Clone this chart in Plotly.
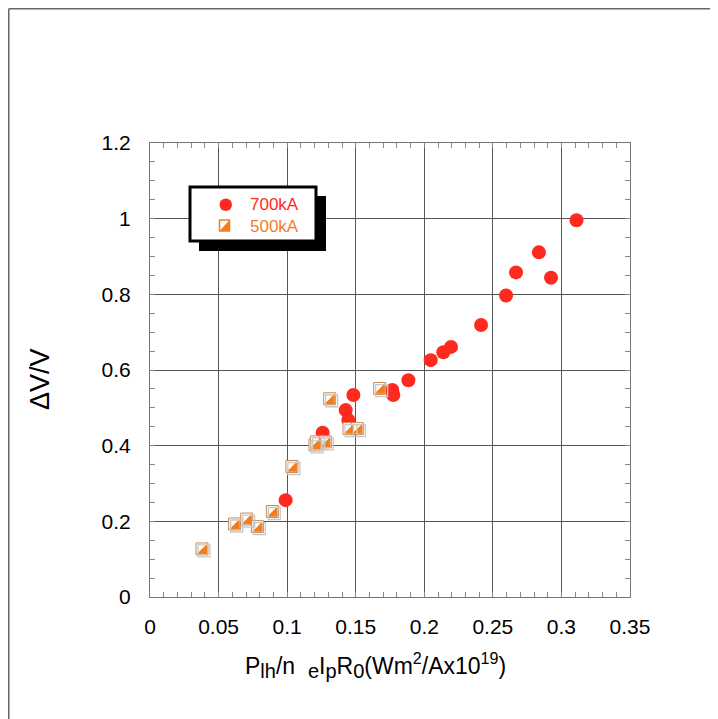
import plotly.graph_objects as go

# 700kA shots (red circles)
x_700 = [0.0989, 0.1259, 0.1427, 0.1446, 0.1483, 0.1767, 0.1774, 0.1884, 0.2047,
         0.2139, 0.2195, 0.2414, 0.2596, 0.2669, 0.2836, 0.2924, 0.3110]
y_700 = [0.256, 0.434, 0.494, 0.468, 0.534, 0.547, 0.534, 0.573, 0.626,
         0.647, 0.661, 0.719, 0.797, 0.858, 0.911, 0.844, 0.996]

# 500kA shots (half-filled orange squares)
x_500 = [0.0379, 0.0617, 0.0705, 0.0783, 0.0892, 0.1035, 0.1203, 0.1215, 0.1278,
         0.1310, 0.1451, 0.1512, 0.1675]
y_500 = [0.127, 0.193, 0.206, 0.186, 0.226, 0.345, 0.402, 0.410, 0.410,
         0.524, 0.445, 0.445, 0.551]

x_ticks = [0, 0.05, 0.1, 0.15, 0.2, 0.25, 0.3, 0.35]
y_ticks = [0, 0.2, 0.4, 0.6, 0.8, 1, 1.2]

RED = "#ff2a1f"
ORANGE = "#f07d1e"
FONT = "Liberation Sans, Arial, sans-serif"

# page is drawn 8px in from the window corner (body margin)
OFF = 8
PAGE_W, PAGE_H = 718, 719
W, H = PAGE_W - OFF, PAGE_H - OFF
# plot area, in window pixels
L, R, T, B = 150, 630, 143, 597
XR, YR = [0, 0.35], [0, 1.2]
kx = (R - L) / (XR[1] - XR[0])
ky = (B - T) / (YR[1] - YR[0])


def px(x):
    return (x - L) / (R - L)


def py(y):
    return (B - y) / (B - T)


def shifted(rng, d, k):
    # move an overlay axis so its marks land d pixels away
    return [rng[0] - d / k, rng[1] - d / k]


fig = go.Figure()

# shadow squares (offset 2px right/down)
fig.add_trace(go.Scatter(
    x=x_500, y=y_500, mode="markers", xaxis="x3", yaxis="y3", hoverinfo="skip",
    marker=dict(symbol="square", size=12, color="rgba(0,0,0,0)",
                line=dict(color="#c8c8c8", width=1.3)),
    showlegend=False))

fig.add_trace(go.Scatter(
    x=x_700, y=y_700, mode="markers", name="700kA",
    marker=dict(symbol="circle", size=14, color=RED, line=dict(width=0)),
    showlegend=False))

fig.add_trace(go.Scatter(
    x=x_500, y=y_500, mode="markers", name="500kA",
    marker=dict(symbol="square", size=12, color="white",
                line=dict(color="#c98a55", width=1)),
    showlegend=False))

# orange lower-right half, on an overlay axis to centre plotly's triangle
fig.add_trace(go.Scatter(
    x=x_500, y=y_500, mode="markers", xaxis="x2", yaxis="y2", hoverinfo="skip",
    marker=dict(symbol="triangle-se", size=11.5, color=ORANGE, line=dict(width=0)),
    showlegend=False))

axis_common = dict(
    showgrid=True, gridcolor="#555", gridwidth=1, zeroline=False,
    showline=True, linecolor="#777", linewidth=1, mirror="ticks",
    ticks="inside", ticklen=5, tickcolor="#888",
    tickfont=dict(family=FONT, size=21, color="black"),
)
fig.update_layout(
    width=W, height=H,
    margin=dict(l=L - OFF, r=PAGE_W - R, t=T - OFF, b=PAGE_H - B),
    paper_bgcolor="white", plot_bgcolor="white",
    xaxis=dict(range=XR, tickvals=x_ticks, ticklabelstandoff=11,
               minor=dict(dtick=0.01, tick0=0, ticks="inside", ticklen=5,
                          tickcolor="#888", showgrid=False),
               **axis_common),
    yaxis=dict(range=YR, tickvals=y_ticks, ticklabelstandoff=14,
               minor=dict(dtick=0.05, tick0=0, ticks="inside", ticklen=5,
                          tickcolor="#888", showgrid=False),
               **axis_common),
    xaxis2=dict(overlaying="x", range=shifted(XR, 1.7, kx), visible=False),
    yaxis2=dict(overlaying="y", range=shifted(YR, -1.7, ky), visible=False),
    xaxis3=dict(overlaying="x", range=shifted(XR, 2, kx), visible=False),
    yaxis3=dict(overlaying="y", range=shifted(YR, -2, ky), visible=False),
    showlegend=False,
)

shapes = []
# page frame (top and left edges)
shapes.append(dict(type="line", xref="paper", yref="paper", x0=px(8.75), x1=px(PAGE_W),
                   y0=py(8.75), y1=py(8.75), line=dict(color="#666", width=1.5)))
shapes.append(dict(type="line", xref="paper", yref="paper", x0=px(8.75), x1=px(8.75),
                   y0=py(8.75), y1=py(PAGE_H), line=dict(color="#666", width=1.5)))
# legend box with drop shadow
shapes.append(dict(type="rect", xref="paper", yref="paper", x0=px(199), x1=px(326),
                   y0=py(251), y1=py(196), fillcolor="black", line=dict(width=0)))
shapes.append(dict(type="rect", xref="paper", yref="paper", x0=px(190), x1=px(316),
                   y0=py(241), y1=py(187), fillcolor="white",
                   line=dict(color="black", width=3)))
# legend symbols
shapes.append(dict(type="circle", xref="paper", yref="paper", x0=px(219.5), x1=px(232),
                   y0=py(211), y1=py(198.5), fillcolor=RED, line=dict(width=0)))
shapes.append(dict(type="rect", xref="paper", yref="paper", x0=px(219.5), x1=px(229.5),
                   y0=py(231), y1=py(220), fillcolor="white",
                   line=dict(color=ORANGE, width=1.5)))
shapes.append(dict(type="path", xref="paper", yref="paper",
                   path=f"M {px(229.5)},{py(220)} L {px(229.5)},{py(231)} L {px(219.5)},{py(231)} Z",
                   fillcolor=ORANGE, line=dict(width=0)))
fig.update_layout(shapes=shapes)


def sub(s):
    return f"<sub><span style='font-size:20px'>{s}</span></sub>"


x_title = (f"P{sub('lh')}/n&nbsp;&nbsp;{sub('e')}I{sub('p')}R{sub('0')}"
           "(Wm<sup>2</sup>/Ax10<sup>19</sup>)")

annotations = [
    dict(text="700kA", x=px(248), y=py(205), xanchor="left", yanchor="middle",
         font=dict(family=FONT, size=17, color=RED)),
    dict(text="500kA", x=px(248), y=py(226), xanchor="left", yanchor="middle",
         font=dict(family=FONT, size=17, color=ORANGE)),
    dict(text="ΔV/V", x=px(40), y=py(379), textangle=-90,
         xanchor="center", yanchor="middle",
         font=dict(family=FONT, size=27, color="black")),
    dict(text=x_title, x=px(375), y=py(665), xanchor="center", yanchor="middle",
         font=dict(family=FONT, size=23, color="black")),
]
for a in annotations:
    a.update(xref="paper", yref="paper", showarrow=False)
fig.update_layout(annotations=annotations)

fig.write_html("out.html")
